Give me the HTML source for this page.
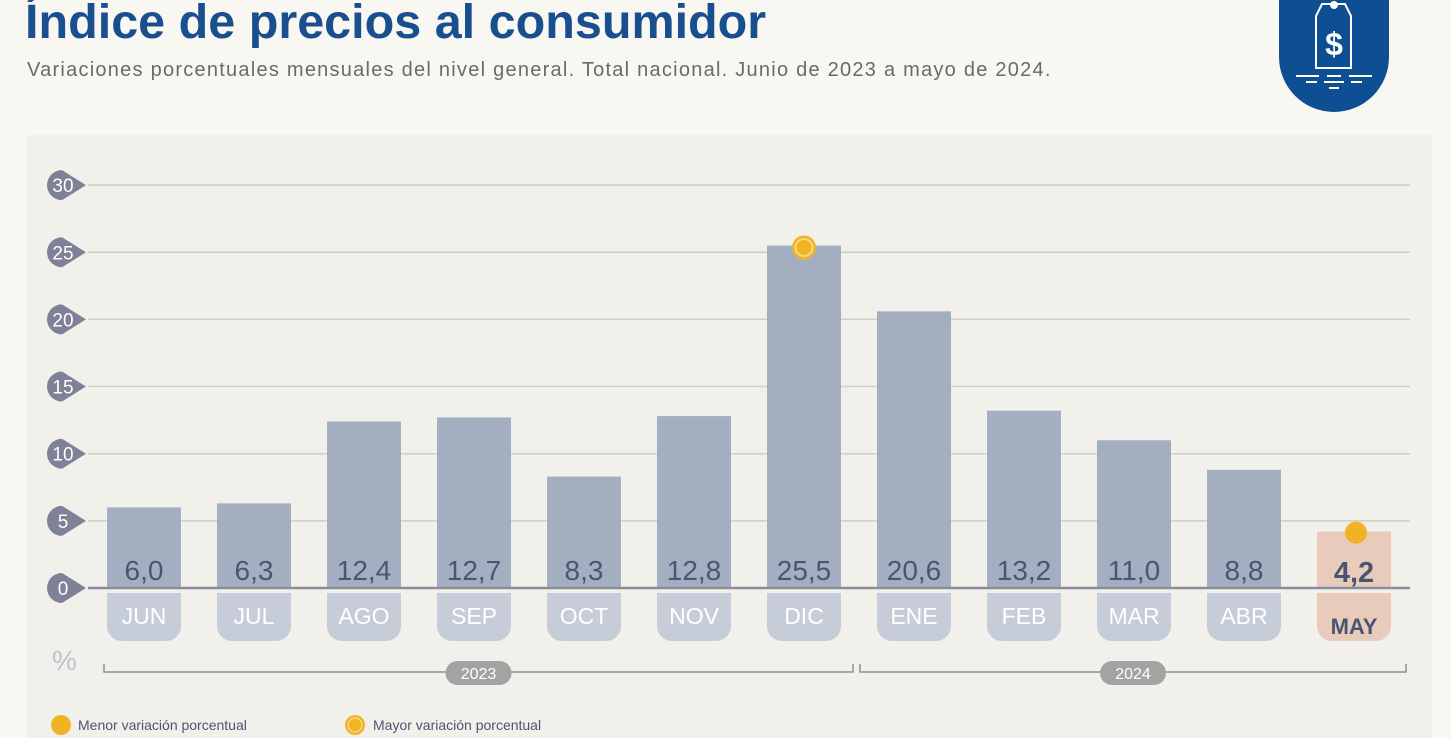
<!DOCTYPE html>
<html><head><meta charset="utf-8"><style>
body{margin:0;width:1451px;height:738px;overflow:hidden;background:#f9f7f1;font-family:"Liberation Sans",sans-serif;position:relative}
#title{position:absolute;left:25px;top:-6px;font-size:48.5px;font-weight:bold;color:#1a4f8f;margin:0;white-space:nowrap}
#sub{position:absolute;left:27px;top:59px;font-size:20px;letter-spacing:1.25px;color:#6a6a6a;white-space:nowrap}
</style></head><body>
<h1 id="title">Índice de precios al consumidor</h1>
<div id="sub">Variaciones porcentuales mensuales del nivel general. Total nacional. Junio de 2023 a mayo de 2024.</div>
<svg style="position:absolute;left:1279px;top:0" width="112" height="114" viewBox="0 0 112 114">
<path d="M0,0 H110 V57 A55,55 0 0 1 0,57 Z" fill="#0e4f93"/>
<path d="M43,4 L66,4 L72,16 V68 H37 V16 Z" fill="none" stroke="#fff" stroke-width="2"/>
<circle cx="55" cy="5" r="4" fill="#fff"/>
<text x="55" y="55" font-size="32" font-weight="bold" fill="#fff" text-anchor="middle" font-family="Liberation Sans">$</text>
<g stroke="#fff" stroke-width="2"><line x1="17" y1="76" x2="40" y2="76"/><line x1="48" y1="76" x2="62" y2="76"/><line x1="70" y1="76" x2="93" y2="76"/><line x1="27" y1="82" x2="38" y2="82"/><line x1="45" y1="82" x2="65" y2="82"/><line x1="72" y1="82" x2="83" y2="82"/><line x1="50" y1="88" x2="60" y2="88"/></g>
</svg>
<svg id="chart" style="position:absolute;left:0;top:0" width="1451" height="738"></svg>
<script>
const categories=["JUN","JUL","AGO","SEP","OCT","NOV","DIC","ENE","FEB","MAR","ABR","MAY"];
const values=[6.0,6.3,12.4,12.7,8.3,12.8,25.5,20.6,13.2,11.0,8.8,4.2];
const yTicks=[0,5,10,15,20,25,30];
const years=["2023","2024"];
const NS="http://www.w3.org/2000/svg";
const svg=document.getElementById('chart');
const y=v=>588-v*13.43;
const xb=i=>107+110*i;
function mk(t,a,p){const e=document.createElementNS(NS,t);for(const k in a)e.setAttribute(k,a[k]);(p||svg).appendChild(e);return e;}
const panel=mk('rect',{x:27,y:135,width:1405,height:610,fill:"#f2f0eb"});


yTicks.forEach(t=>{
  const g=mk('g',{});
  
  
  if(t>0)mk('line',{x1:88,x2:1410,y1:y(t),y2:y(t),stroke:"#cfcdc8","stroke-width":1.5},g);
  mk('path',{d:`M${62},${y(t)-15} A15,15 0 1 0 ${62},${y(t)+15} L${86},${y(t)} Z`,fill:"#7f8197"},g);
  const tx=mk('text',{x:63,y:y(t)+7,"font-size":19,fill:"#fff","text-anchor":"middle"},g);tx.textContent=t;
});
categories.forEach((c,i)=>{
  const last=i===categories.length-1;
  const g=mk('g',{});
  
  
  const x=xb(i),v=values[i];
  mk('rect',{x:x,y:y(v),width:74,height:588-y(v),fill:last?"#e8cbbb":"#a3afc0"},g);
  mk('path',{d:`M${x},593 H${x+74} V626 A15,15 0 0 1 ${x+59},641 H${x+15} A15,15 0 0 1 ${x},626 Z`,fill:last?"#e8cbbb":"#c6cdd9"},g);
  const vt=mk('text',{x:x+37,y:last?582:580,"font-size":last?29:28,"font-weight":last?"bold":"normal",fill:"#4a5573","text-anchor":"middle"},g);vt.textContent=v.toFixed(1).replace('.',',');
  const lt=mk('text',{x:x+37,y:last?634:624,"font-size":last?22:23,"font-weight":last?"bold":"normal",fill:last?"#4a5573":"#fff","text-anchor":"middle"},g);lt.textContent=c;
});
const zl=mk('line',{x1:88,x2:1410,y1:588,y2:588,stroke:"#8b8e9a","stroke-width":2.5});


let maxI=values.indexOf(Math.max(...values)),minI=values.indexOf(Math.min(...values));
const mx=mk('g',{});


mk('circle',{cx:xb(maxI)+37,cy:y(values[maxI])+2,r:12,fill:"#f0b323"},mx);
mk('circle',{cx:xb(maxI)+37,cy:y(values[maxI])+2,r:8.5,fill:"none",stroke:"#f7d77a","stroke-width":2},mx);
const mn=mk('circle',{cx:xb(minI)+39,cy:y(values[minI])+1,r:11,fill:"#f0b323"});


const pct=mk('text',{x:52,y:670,"font-size":28,fill:"#bfc3cf"});pct.textContent="%";


[[104,853],[860,1406]].forEach((r,k)=>{
  const g=mk('g',{});
  
  
  mk('path',{d:`M${r[0]},664 V672 H${r[1]} V664`,fill:"none",stroke:"#8f8f8f","stroke-width":1.5},g);
  const c=(r[0]+r[1])/2;
  mk('rect',{x:c-33,y:661,width:66,height:24,rx:12,fill:"#a3a3a3"},g);
  const t=mk('text',{x:c,y:679,"font-size":16,fill:"#fff","text-anchor":"middle"},g);t.textContent=years[k];
});
const l1=mk('g',{});


mk('circle',{cx:61,cy:725,r:10,fill:"#f0b323"},l1);
const t1=mk('text',{x:78,y:730,"font-size":14,fill:"#4a5573"},l1);t1.textContent="Menor variación porcentual";
const l2=mk('g',{});


mk('circle',{cx:355,cy:725,r:10,fill:"#f0b323"},l2);
mk('circle',{cx:355,cy:725,r:7,fill:"none",stroke:"#f7d77a","stroke-width":1.5},l2);
const t2=mk('text',{x:373,y:730,"font-size":14,fill:"#4a5573"},l2);t2.textContent="Mayor variación porcentual";
</script>
</body></html>
